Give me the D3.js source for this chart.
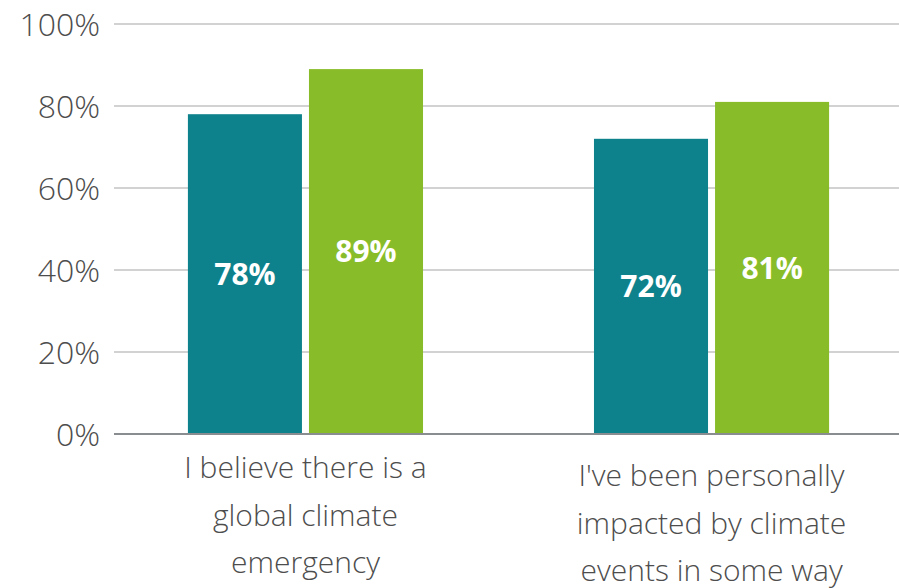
<!DOCTYPE html>
<html>
<head>
<meta charset="utf-8">
<script src="https://cdn.jsdelivr.net/npm/d3@7"></script>
<style>
  body { margin: 0; background: #fff; }
  svg { display: block; font-family: "Open Sans", sans-serif; }
  .tick-label { font-weight: 300; fill: #4d4d4d; font-size: 32px; }
  .cat-label { font-weight: 300; fill: #4d4d4d; font-size: 30px; }
  .val-label { font-weight: 700; fill: #fff; font-size: 30px; }
</style>
</head>
<body>
<svg width="899" height="588"></svg>
<script>
var svg = d3.select('svg');

// chart data
var categories = [
  ['I believe there is a', 'global climate', 'emergency'],
  ["I've been personally", 'impacted by climate', 'events in some way']
];
var seriesA = [78, 72];   // teal
var seriesB = [89, 81];   // green
var yTicks = [0, 20, 40, 60, 80, 100];

var colors = ['#0e828c', '#88bd29'];

// scales
var yScale = d3.scaleLinear()
   .domain([0, 100])
   .range([434, 24]);

var xGroup = d3.scaleBand()
   .domain(d3.range(categories.length))
   .range([114, 903])
   .paddingInner(0.421)
   .paddingOuter(0.182);

var xSub = d3.scaleBand()
   .domain([0, 1])
   .range([0, xGroup.bandwidth()])
   .paddingInner(0.058);

// gridlines
svg.selectAll('.grid')
   .data(yTicks.filter(function(d){ return d > 0; }))
   .enter()
   .append('line')
   .attr('class', 'grid')
   .attr('x1', 114)
   .attr('x2', 899)
   .attr('y1', function(d){ return yScale(d); })
   .attr('y2', function(d){ return yScale(d); })
   .style('stroke', '#d2d2d2')
   .style('stroke-width', 2);

// y tick labels
svg.selectAll('.tick-label')
   .data(yTicks)
   .enter()
   .append('text')
   .attr('class', 'tick-label')
   .attr('x', 100)
   .attr('y', function(d){ return yScale(d); })
   .attr('dy', '0.36em')
   .attr('text-anchor', 'end')
   .text(function(d){ return d + '%'; });

// bars
var rows = [];
categories.forEach(function(c, i){
   rows.push({g: i, s: 0, v: seriesA[i]});
   rows.push({g: i, s: 1, v: seriesB[i]});
});

svg.selectAll('.bar')
   .data(rows)
   .enter()
   .append('rect')
   .attr('class', 'bar')
   .attr('x', function(d){ return xGroup(d.g) + xSub(d.s); })
   .attr('width', xSub.bandwidth())
   .attr('y', function(d){ return yScale(d.v); })
   .attr('height', function(d){ return yScale(0) - yScale(d.v); })
   .style('fill', function(d){ return colors[d.s]; });

// value labels in the middle of each bar
svg.selectAll('.val-label')
   .data(rows)
   .enter()
   .append('text')
   .attr('class', 'val-label')
   .attr('x', function(d){ return xGroup(d.g) + xSub(d.s) + xSub.bandwidth() / 2; })
   .attr('y', function(d){ return (yScale(d.v) + yScale(0)) / 2; })
   .attr('dy', '0.36em')
   .attr('text-anchor', 'middle')
   .text(function(d){ return d.v + '%'; });

// baseline axis
svg.append('line')
   .attr('x1', 114)
   .attr('x2', 899)
   .attr('y1', yScale(0))
   .attr('y2', yScale(0))
   .style('stroke', '#8a8d90')
   .style('stroke-width', 2);

// category labels (second one sits a little lower in the original)
var labelTop = [478, 486];
var cat = svg.selectAll('.cat-label')
   .data(categories)
   .enter()
   .append('text')
   .attr('class', 'cat-label')
   .attr('text-anchor', 'middle')
   .attr('transform', function(d, i){
       return 'translate(' + (xGroup(i) + xGroup.bandwidth() / 2) + ',' + labelTop[i] + ')';
   });

cat.selectAll('tspan')
   .data(function(d){ return d; })
   .enter()
   .append('tspan')
   .attr('x', 0)
   .attr('y', function(d, i){ return i * 47.5; })
   .text(function(d){ return d; });
</script>
</body>
</html>
